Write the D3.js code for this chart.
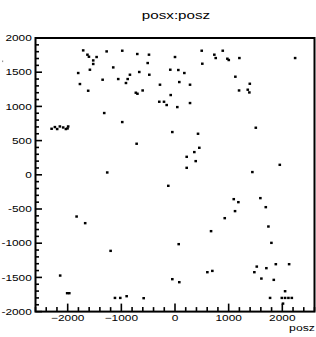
<!DOCTYPE html>
<html>
<head>
<meta charset="utf-8">
<script src="https://cdn.jsdelivr.net/npm/d3@7"></script>
<style>
html,body{margin:0;padding:0;background:#fff;}
svg{display:block;}
text{font-family:"Liberation Sans",Arial,sans-serif;fill:#000;}
</style>
</head>
<body>
<svg id="c" width="316" height="337"></svg>
<script>
// horizontal axis values (posz)
const posz = [
  -1711,-1632,-1604,-1524,-1461,-1524,-1274,-1151,-1804,-1586,-1349,-1058,-1772,-1618,-1319,
  -2300,-2239,-2196,-2146,-2084,-2034,-1991,-2003,-1263,
  -983,-703,-485,0,498,733,759,509,-509,-666,-840,-479,-882,-914,-88,62,174,-280,80,280,
  -730,-700,-603,-80,-293,-205,-155,43,280,-983,-50,429,-715,453,360,218,386,218,
  890,976,1002,1200,2239,1125,1394,1194,1356,1386,1506,1953,1442,
  -1834,-1674,-1200,-2140,-2010,-1970,-1119,-1020,-901,-584,
  -125,672,69,-50,80,603,696,
  1095,1181,1591,1692,1119,927,1741,1797,1524,1479,1703,1879,2127,1610,1841,2052,
  1772,1991,2052,2114,2177,2013
];
// vertical axis values (posx)
const posx = [
  1819,1756,1726,1672,1722,1620,1804,1570,1488,1536,1390,1400,1327,1229,903,
  673,698,669,707,692,669,707,678,34,
  1814,1766,1756,1722,1814,1756,1707,1624,1634,1503,1463,1463,1400,1342,1536,1532,1488,1317,1356,1317,
  1200,1185,1233,1166,1068,1068,1020,990,1049,771,625,600,454,395,332,263,200,102,
  1814,1697,1678,1707,1707,1434,1331,1233,1244,1204,688,146,40,
  -610,-707,-1112,-1473,-1731,-1731,-1800,-1800,-1775,-1804,
  -161,-824,-1014,-1526,-1570,-1424,-1405,
  -356,-400,-341,-473,-531,-634,-756,-995,-1342,-1424,-1365,-1307,-1307,-1517,-1536,-1702,
  -1800,-1800,-1800,-1800,-1800,-1883
];
const xTicks = [-2000,-1000,0,1000,2000];
const yTicks = [-2000,-1500,-1000,-500,0,500,1000,1500,2000];
const xDomain = [-2600, 2600];
const yDomain = [-2000, 2000];
const title = "posx:posz";
const xTitle = "posz";

const svg = d3.select("#c");
const L = 35.5, R = 314.5, T = 38, B = 311.6;
const x = d3.scaleLinear().domain(xDomain).range([L, R]);
const y = d3.scaleLinear().domain(yDomain).range([B, T]);
const SX = 1.32;
const fmtX = v => v < 0 ? "\u2212" + Math.abs(v) : String(v);
const fmtY = v => v < 0 ? "-" + Math.abs(v) : String(v);

// frame
svg.append("rect").attr("x", L).attr("y", T).attr("width", R - L).attr("height", B - T)
  .attr("fill", "none").attr("stroke", "#000").attr("stroke-width", 2);

// points
svg.append("g").selectAll("rect").data(posz.map((d, i) => [d, posx[i]])).join("rect")
  .attr("x", d => x(d[0]) - 1.3).attr("y", d => y(d[1]) - 1.2)
  .attr("width", 2.6).attr("height", 2.4).attr("fill", "#000");

// x axis ticks (inward)
const xMinor = d3.range(-2600, 2601, 200);
svg.append("g").selectAll("line").data(xMinor).join("line")
  .attr("x1", d => x(d)).attr("x2", d => x(d))
  .attr("y1", B).attr("y2", d => B - (xTicks.includes(d) ? 8 : 4.5))
  .attr("stroke", "#000").attr("stroke-width", 1.6);
// y axis ticks
const yMinor = d3.range(-2000, 2001, 100);
svg.append("g").selectAll("line").data(yMinor).join("line")
  .attr("y1", d => y(d)).attr("y2", d => y(d))
  .attr("x1", L).attr("x2", d => L + (yTicks.includes(d) ? 6.5 : 3.5))
  .attr("stroke", "#000").attr("stroke-width", 1.6);

// x tick labels
svg.append("g").selectAll("text").data(xTicks).join("text")
  .attr("transform", d => `translate(${x(d)},320.8) scale(${SX},1)`)
  .attr("text-anchor", "middle").attr("font-size", 9).text(fmtX);
// y tick labels
svg.append("g").selectAll("text").data(yTicks).join("text")
  .attr("transform", d => `translate(31.8,${y(d) + 3.2}) scale(${SX},1)`)
  .attr("text-anchor", "end").attr("font-size", 9).text(fmtY);

// title
svg.append("text").attr("transform", `translate(176,18.5) scale(${SX},1)`)
  .attr("text-anchor", "middle").attr("font-size", 11.5).text(title);
// x axis title
svg.append("text").attr("transform", `translate(315,331) scale(${SX},1)`)
  .attr("text-anchor", "end").attr("font-size", 9.3).text(xTitle);

// small stray mark at left
svg.append("rect").attr("x", 2).attr("y", 60.5).attr("width", 1.2).attr("height", 1.6).attr("fill", "#999");
</script>
</body>
</html>
